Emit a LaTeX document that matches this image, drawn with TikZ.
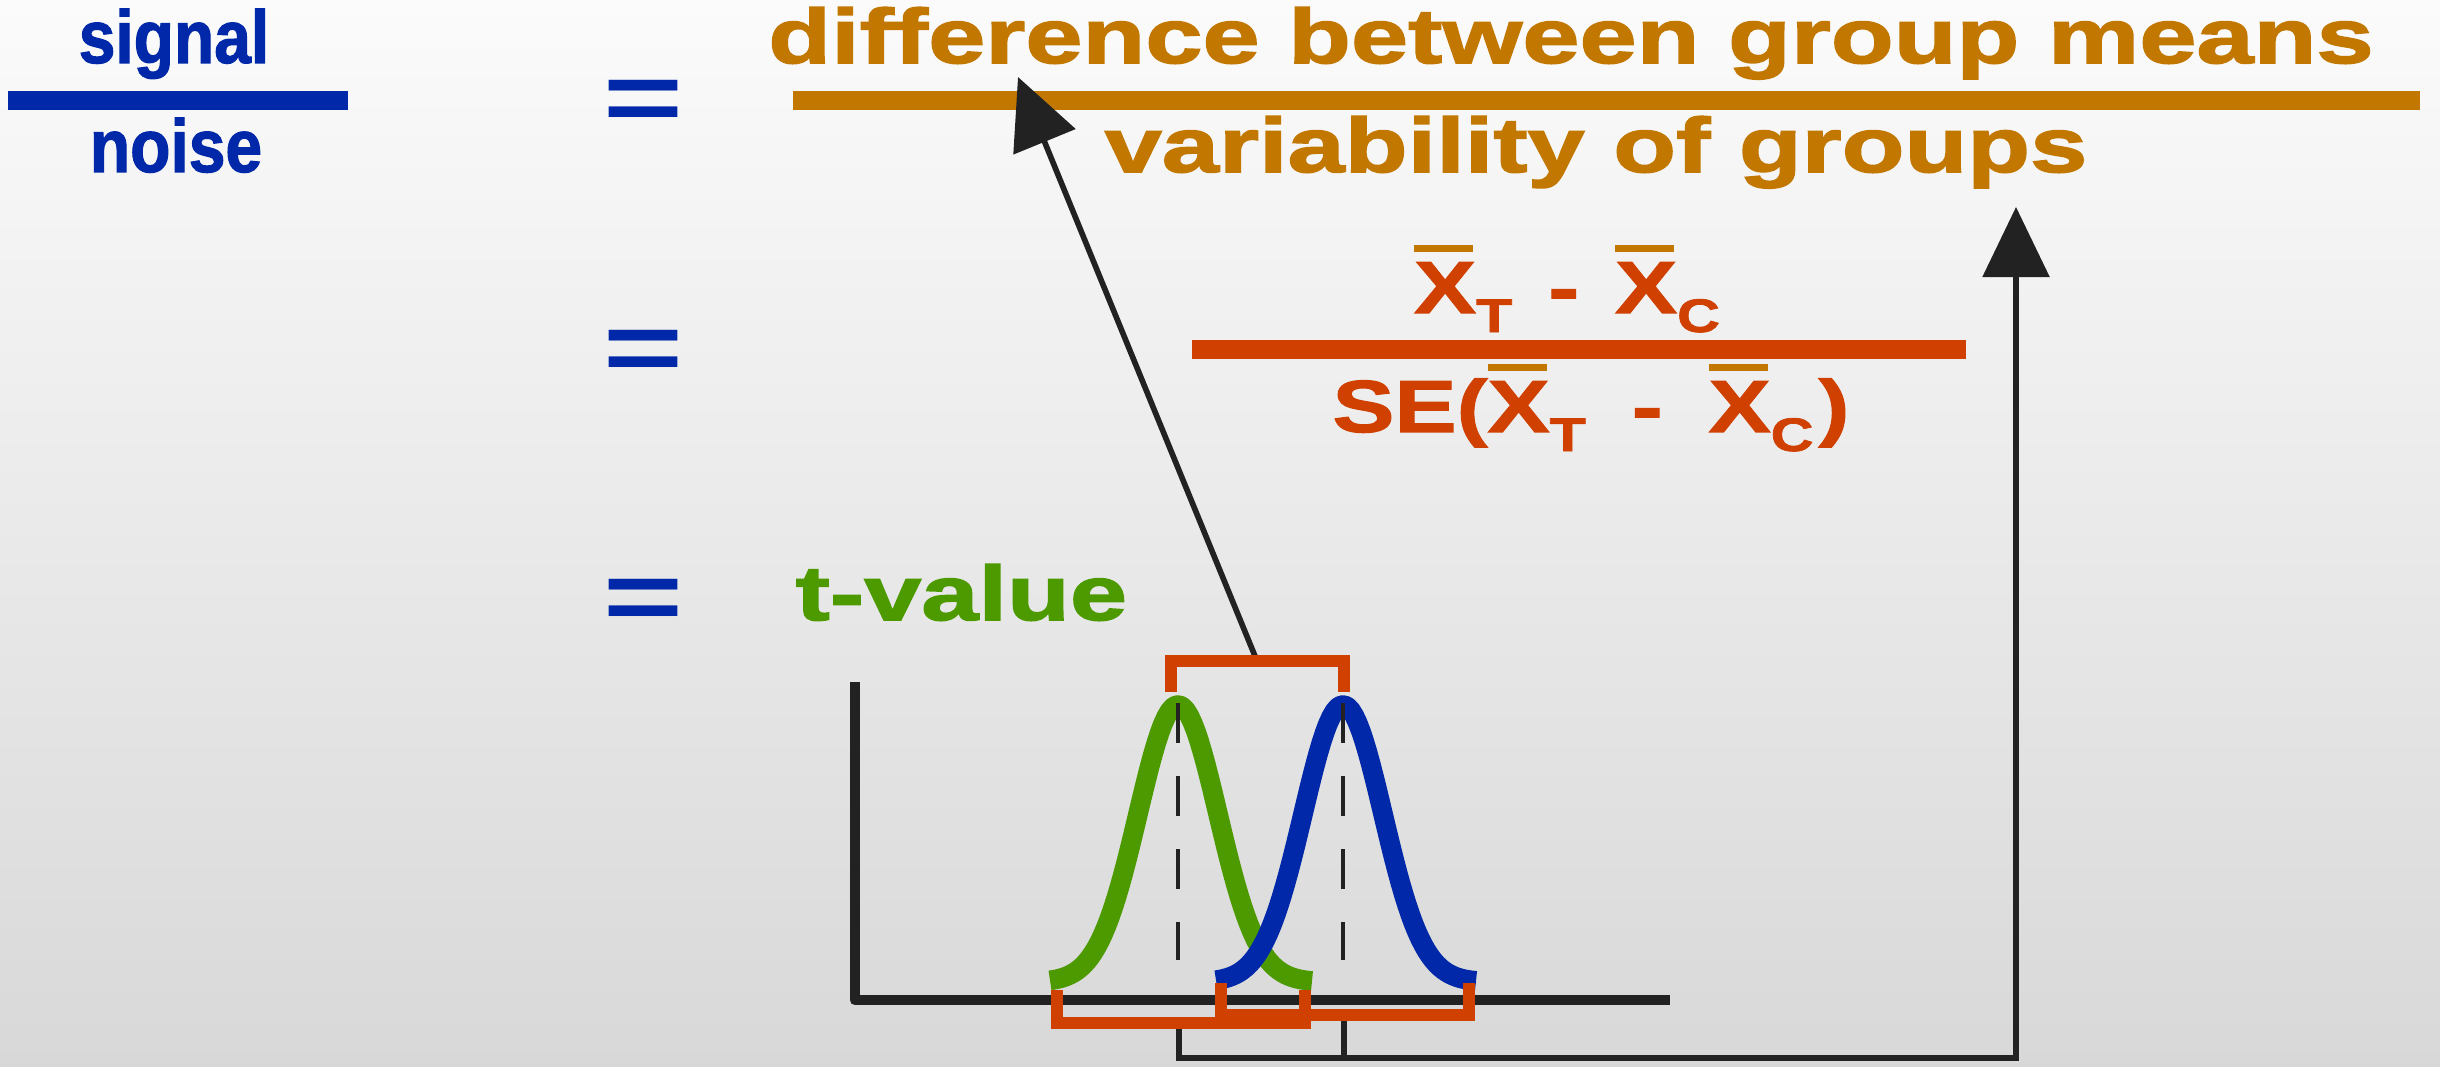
\documentclass[tikz,border=0pt]{standalone}
\usepackage{fontspec}
\newfontfamily\bluefont[FakeStretch=0.88, FakeBold=1.5]{Liberation Sans}
\newfontfamily\widefont[FakeStretch=1.335, FakeBold=2]{Liberation Sans}
\newfontfamily\eqfont[FakeStretch=1.39]{Liberation Sans}
\newfontfamily\redfont[FakeStretch=1.26, FakeBold=1.5]{Liberation Sans}
\usetikzlibrary{positioning,arrows.meta}

\definecolor{sigblue}{RGB}{0,40,168}
\definecolor{diffbrown}{RGB}{194,120,0}
\definecolor{sered}{RGB}{208,64,0}
\definecolor{tgreen}{RGB}{76,154,0}
\definecolor{inkgray}{RGB}{34,34,34}
\definecolor{bgtop}{RGB}{251,251,251}
\definecolor{bgbottom}{RGB}{216,216,216}

% X with a mean bar and a subscript
\newcommand{\meanx}[1]{\makebox[0pt][l]{\color{diffbrown}\rule[0.61cm]{0.59cm}{0.07cm}}X\raisebox{-0.19cm}{\fontsize{13.4}{14}\selectfont #1}}

\tikzset{
  bluetxt/.style={font=\bluefont\bfseries\fontsize{21.3}{25}\selectfont, text=sigblue, inner sep=0pt, anchor=base},
  browntxt/.style={font=\widefont\bfseries\fontsize{21.9}{25}\selectfont, text=diffbrown, inner sep=0pt, anchor=base},
  redtxt/.style={font=\redfont\bfseries\fontsize{21}{25}\selectfont, text=sered, inner sep=0pt, anchor=base},
  greentxt/.style={font=\widefont\bfseries\fontsize{21.9}{25}\selectfont, text=tgreen, inner sep=0pt, anchor=base west},
  eqsign/.style={font=\eqfont\bfseries\fontsize{28}{30}\selectfont, text=sigblue, inner sep=0pt, anchor=base},
  fracbar/.style={line width=5.4pt},
  axisline/.style={inkgray, line width=3.1pt, line join=round},
  bellcurve/.style={line width=5.6pt, line join=round},
  meanline/.style={inkgray, line width=1.4pt, dash pattern=on 11.4pt off 9.4pt},
  bracket/.style={sered, line width=3.4pt},
  thinline/.style={inkgray, line width=1.6pt},
  bigtip/.style={-{Triangle[length=0.7cm, width=0.66cm]}}
}

\begin{document}
\begin{tikzpicture}[x=0.01cm, y=-0.01cm]
\useasboundingbox (0,0) rectangle (2440,1067);
\shade[top color=bgtop, bottom color=bgbottom] (0,0) rectangle (2440,1067);

% signal / noise
\node[bluetxt] (signal) at (174,63) {signal};
\node[bluetxt] (noise) at (176,172) {noise};
\draw[fracbar, sigblue] (8,100.5) -- (348,100.5);

\node[eqsign] (eqA) at (643,132) {=};
\node[eqsign] (eqB) at (643,381) {=};
\node[eqsign] (eqC) at (643,630) {=};

% group means over variability
\node[browntxt] (diffMeans) at (1571,63) {difference between group means};
\node[browntxt] (varGroups) at (1596,172) {variability of groups};
\draw[fracbar, diffbrown] (793,100.5) -- (2420,100.5);

% t formula
\node[redtxt] (numer) at (1567,313) {\meanx{T}\hspace{0.1cm} - \hspace{0.1cm}\meanx{C}};
\node[redtxt] (denom) at (1591,432) {SE(\meanx{T}\hspace{0.2cm} - \hspace{0.2cm}\meanx{C}\hspace{0.05cm})};
\draw[fracbar, sered] (1192,349.5) -- (1966,349.5);

\node[greentxt] (tval) at (795,620) {t-value};

% axes and the two distributions
\draw[axisline] (855,682) -- (855,1000) -- (1670,1000);
\draw[bellcurve, tgreen] plot[domain=-128:134, samples=80] ({1178+\x}, {982-277*exp(-0.5*(\x/40)*(\x/40))});
\draw[bellcurve, sigblue] plot[domain=-127:133, samples=80] ({1343+\x}, {982-277*exp(-0.5*(\x/40)*(\x/40))});
\draw[meanline] (1178,703) -- (1178,960);
\draw[meanline] (1343,703) -- (1343,960);

% arrows to the formula
\coordinate (diffTip) at (1018,77);
\coordinate (varTip) at (2016,207);
\coordinate (meanGap) at (1257,661);
\coordinate (seLeft) at (1179,1023);
\coordinate (seRight) at (1344,1018);
\coordinate (seCorner) at (2016,1058);
\draw[thinline, bigtip] (meanGap) -- (diffTip);
\draw[thinline, bigtip] (seLeft) -- (seLeft |- seCorner) -- (seCorner) -- (varTip);
\draw[thinline] (seRight) -- (seRight |- seCorner);

% brackets
\draw[bracket] (1171,692) -- (1171,661) -- (1344,661) -- (1344,692);
\draw[bracket] (1057,990) -- (1057,1023) -- (1305,1023) -- (1305,990);
\draw[bracket] (1221,983) -- (1221,1015) -- (1469,1015) -- (1469,983);
\end{tikzpicture}
\end{document}
